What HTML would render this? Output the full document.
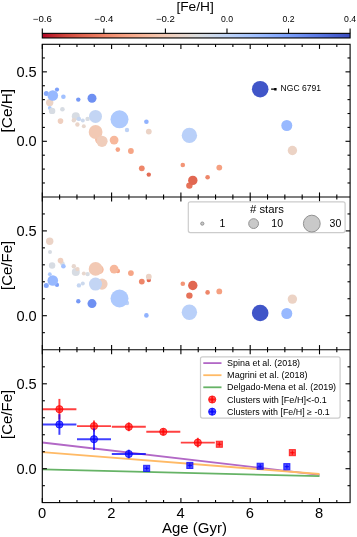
<!DOCTYPE html>
<html><head><meta charset="utf-8"><title>Ce abundance vs age</title>
<style>
html,body{margin:0;padding:0;background:#fff;}
body{width:357px;height:537px;overflow:hidden;font-family:"Liberation Sans",sans-serif;}
svg{will-change:transform;}
svg text{font-family:"Liberation Sans",sans-serif;fill:#000;}
</style></head><body>
<svg width="357" height="537" viewBox="0 0 357 537" style="display:block">
<rect x="0" y="0" width="357" height="537" fill="#ffffff"/>
<defs><linearGradient id="cb" x1="0" y1="0" x2="1" y2="0"><stop offset="0.0000" stop-color="#b40426"/><stop offset="0.0250" stop-color="#bd1f2d"/><stop offset="0.0500" stop-color="#c53334"/><stop offset="0.0750" stop-color="#cf453c"/><stop offset="0.1000" stop-color="#d65244"/><stop offset="0.1250" stop-color="#de614d"/><stop offset="0.1500" stop-color="#e36c55"/><stop offset="0.1750" stop-color="#e9785d"/><stop offset="0.2000" stop-color="#ee8468"/><stop offset="0.2250" stop-color="#f18f71"/><stop offset="0.2500" stop-color="#f49a7b"/><stop offset="0.2750" stop-color="#f6a385"/><stop offset="0.3000" stop-color="#f7ac8e"/><stop offset="0.3250" stop-color="#f7b599"/><stop offset="0.3500" stop-color="#f6bda2"/><stop offset="0.3750" stop-color="#f4c5ad"/><stop offset="0.4000" stop-color="#f2cbb7"/><stop offset="0.4250" stop-color="#eed0c0"/><stop offset="0.4500" stop-color="#e9d5cb"/><stop offset="0.4750" stop-color="#e3d9d3"/><stop offset="0.5000" stop-color="#dcdddd"/><stop offset="0.5250" stop-color="#d6dce4"/><stop offset="0.5500" stop-color="#cfdaea"/><stop offset="0.5750" stop-color="#c7d7f0"/><stop offset="0.6000" stop-color="#c0d4f5"/><stop offset="0.6250" stop-color="#b7cff9"/><stop offset="0.6500" stop-color="#afcafc"/><stop offset="0.6750" stop-color="#a7c5fe"/><stop offset="0.7000" stop-color="#9ebeff"/><stop offset="0.7250" stop-color="#96b7ff"/><stop offset="0.7500" stop-color="#8caffe"/><stop offset="0.7750" stop-color="#84a7fc"/><stop offset="0.8000" stop-color="#7b9ff9"/><stop offset="0.8250" stop-color="#7295f4"/><stop offset="0.8500" stop-color="#6a8bef"/><stop offset="0.8750" stop-color="#6180e9"/><stop offset="0.9000" stop-color="#5977e3"/><stop offset="0.9250" stop-color="#516ddb"/><stop offset="0.9500" stop-color="#4961d2"/><stop offset="0.9750" stop-color="#4257c9"/><stop offset="1.0000" stop-color="#3b4cc0"/></linearGradient></defs>
<rect x="42.30" y="33.35" width="307.80" height="4.60" fill="url(#cb)" stroke="#000" stroke-width="1.10"/>
<line x1="42.30" y1="33.35" x2="42.30" y2="28.60" stroke="#000" stroke-width="1.10"/>
<text x="32.80" y="21.9" font-size="9.0" textLength="19.0" lengthAdjust="spacingAndGlyphs">−0.6</text>
<line x1="103.86" y1="33.35" x2="103.86" y2="28.60" stroke="#000" stroke-width="1.10"/>
<text x="94.36" y="21.9" font-size="9.0" textLength="19.0" lengthAdjust="spacingAndGlyphs">−0.4</text>
<line x1="165.42" y1="33.35" x2="165.42" y2="28.60" stroke="#000" stroke-width="1.10"/>
<text x="155.92" y="21.9" font-size="9.0" textLength="19.0" lengthAdjust="spacingAndGlyphs">−0.2</text>
<line x1="226.98" y1="33.35" x2="226.98" y2="28.60" stroke="#000" stroke-width="1.10"/>
<text x="220.93" y="21.9" font-size="9.0" textLength="12.1" lengthAdjust="spacingAndGlyphs">0.0</text>
<line x1="288.54" y1="33.35" x2="288.54" y2="28.60" stroke="#000" stroke-width="1.10"/>
<text x="282.49" y="21.9" font-size="9.0" textLength="12.1" lengthAdjust="spacingAndGlyphs">0.2</text>
<line x1="350.10" y1="33.35" x2="350.10" y2="28.60" stroke="#000" stroke-width="1.10"/>
<text x="344.05" y="21.9" font-size="9.0" textLength="12.1" lengthAdjust="spacingAndGlyphs">0.4</text>
<text x="176.4" y="10.6" font-size="12.3" textLength="37.4" lengthAdjust="spacingAndGlyphs">[Fe/H]</text>
<g fill-opacity="1.00"><circle cx="99.4" cy="139.6" r="4.3" fill="#f7ba9f"/><circle cx="50.0" cy="100.2" r="2.0" fill="#d7dce3"/><circle cx="46.3" cy="93.5" r="2.5" fill="#86a9fc"/><circle cx="57.0" cy="89.6" r="2.1" fill="#7ea1fa"/><circle cx="49.7" cy="102.6" r="3.7" fill="#ebd3c6"/><circle cx="52.8" cy="95.5" r="5.3" fill="#97b8ff"/><circle cx="62.4" cy="109.3" r="2.3" fill="#d7dce3"/><circle cx="63.4" cy="96.7" r="2.3" fill="#a2c1ff"/><circle cx="49.8" cy="107.9" r="1.9" fill="#adc9fd"/><circle cx="52.1" cy="110.9" r="3.2" fill="#d7dce3"/><circle cx="78.3" cy="99.6" r="2.2" fill="#7699f6"/><circle cx="92.0" cy="98.2" r="4.5" fill="#6e90f2"/><circle cx="60.5" cy="121.1" r="2.8" fill="#efcfbf"/><circle cx="75.8" cy="116.2" r="4.0" fill="#d7dce3"/><circle cx="73.8" cy="120.3" r="2.2" fill="#e7d7ce"/><circle cx="77.4" cy="124.5" r="2.2" fill="#ead5c9"/><circle cx="78.9" cy="118.9" r="2.2" fill="#c5d6f2"/><circle cx="82.8" cy="120.5" r="2.0" fill="#ccd9ed"/><circle cx="87.6" cy="118.9" r="2.2" fill="#d8dce2"/><circle cx="83.8" cy="126.2" r="2.0" fill="#e7d7ce"/><circle cx="95.6" cy="132.0" r="6.9" fill="#f2c9b4"/><circle cx="102.0" cy="141.3" r="5.6" fill="#f0cdbb"/><circle cx="95.5" cy="116.4" r="6.5" fill="#c3d5f4"/><circle cx="117.8" cy="149.6" r="2.3" fill="#f6a385"/><circle cx="114.1" cy="140.1" r="4.4" fill="#f7b89c"/><circle cx="127.0" cy="130.0" r="2.2" fill="#bed2f6"/><circle cx="119.5" cy="119.3" r="9.0" fill="#adc9fd"/><circle cx="146.4" cy="121.8" r="2.3" fill="#90b2fe"/><circle cx="148.8" cy="174.6" r="2.2" fill="#e36c55"/><circle cx="148.8" cy="131.6" r="2.9" fill="#ebd3c6"/><circle cx="130.9" cy="151.0" r="2.9" fill="#f6a586"/><circle cx="141.8" cy="168.3" r="2.9" fill="#ee8669"/><circle cx="189.4" cy="135.4" r="7.7" fill="#b9d0f9"/><circle cx="182.8" cy="165.0" r="2.3" fill="#f39577"/><circle cx="189.4" cy="185.6" r="3.2" fill="#e67259"/><circle cx="192.8" cy="180.4" r="4.7" fill="#e16751"/><circle cx="207.6" cy="177.3" r="2.3" fill="#ee8669"/><circle cx="219.3" cy="167.6" r="2.9" fill="#f5a081"/><circle cx="260.2" cy="89.2" r="8.3" fill="#4055c8"/><circle cx="286.8" cy="125.5" r="5.5" fill="#98b9ff"/><circle cx="292.4" cy="150.5" r="4.7" fill="#ecd3c5"/></g>
<g fill-opacity="1.00"><circle cx="99.4" cy="269.6" r="4.3" fill="#f7ba9f"/><circle cx="50.0" cy="251.9" r="2.0" fill="#d7dce3"/><circle cx="46.3" cy="285.6" r="2.5" fill="#86a9fc"/><circle cx="57.0" cy="284.9" r="2.1" fill="#7ea1fa"/><circle cx="49.7" cy="241.3" r="3.7" fill="#ebd3c6"/><circle cx="52.8" cy="280.5" r="5.3" fill="#97b8ff"/><circle cx="62.4" cy="263.6" r="2.3" fill="#d7dce3"/><circle cx="63.4" cy="266.2" r="2.3" fill="#a2c1ff"/><circle cx="49.8" cy="274.2" r="1.9" fill="#adc9fd"/><circle cx="52.1" cy="265.5" r="3.2" fill="#d7dce3"/><circle cx="78.3" cy="301.3" r="2.2" fill="#7699f6"/><circle cx="92.0" cy="303.6" r="4.5" fill="#6e90f2"/><circle cx="60.5" cy="260.6" r="2.8" fill="#efcfbf"/><circle cx="75.8" cy="271.9" r="4.0" fill="#d7dce3"/><circle cx="73.8" cy="266.2" r="2.2" fill="#e7d7ce"/><circle cx="77.4" cy="269.1" r="2.2" fill="#ead5c9"/><circle cx="78.9" cy="285.4" r="2.2" fill="#c5d6f2"/><circle cx="82.8" cy="283.4" r="2.0" fill="#ccd9ed"/><circle cx="87.6" cy="274.1" r="2.2" fill="#d8dce2"/><circle cx="83.8" cy="273.5" r="2.0" fill="#e7d7ce"/><circle cx="95.6" cy="268.9" r="6.9" fill="#f2c9b4"/><circle cx="102.0" cy="284.1" r="5.6" fill="#f0cdbb"/><circle cx="95.5" cy="284.1" r="6.5" fill="#c3d5f4"/><circle cx="117.8" cy="271.0" r="2.3" fill="#f6a385"/><circle cx="114.1" cy="269.1" r="4.4" fill="#f7b89c"/><circle cx="127.0" cy="303.0" r="2.2" fill="#bed2f6"/><circle cx="119.5" cy="298.5" r="9.0" fill="#adc9fd"/><circle cx="146.4" cy="315.4" r="2.3" fill="#90b2fe"/><circle cx="148.8" cy="280.0" r="2.2" fill="#e36c55"/><circle cx="148.8" cy="276.7" r="2.9" fill="#ebd3c6"/><circle cx="130.9" cy="273.1" r="2.9" fill="#f6a586"/><circle cx="141.8" cy="281.6" r="2.9" fill="#ee8669"/><circle cx="189.4" cy="312.3" r="7.7" fill="#b9d0f9"/><circle cx="182.8" cy="283.7" r="2.3" fill="#f39577"/><circle cx="189.4" cy="295.6" r="3.2" fill="#e67259"/><circle cx="192.8" cy="285.5" r="4.7" fill="#e16751"/><circle cx="207.6" cy="292.4" r="2.3" fill="#ee8669"/><circle cx="219.3" cy="291.4" r="2.9" fill="#f5a081"/><circle cx="260.2" cy="313.0" r="8.3" fill="#4055c8"/><circle cx="286.8" cy="313.5" r="5.5" fill="#98b9ff"/><circle cx="292.4" cy="299.1" r="4.7" fill="#ecd3c5"/></g>
<path d="M271.1 88.55 H274.2 V88.0 H276.6 V90.4 H274.2 V89.85 H271.1 Z" fill="#000"/>
<text x="280.6" y="91.4" font-size="9.3" textLength="40.3" lengthAdjust="spacingAndGlyphs">NGC 6791</text>
<g fill="none" stroke-width="1.8" stroke-linecap="butt">
<line x1="42.30" y1="442.5" x2="319.50" y2="474.8" stroke="#b268c6"/>
<line x1="42.30" y1="452.2" x2="319.50" y2="474.0" stroke="#ffba66"/>
<line x1="42.30" y1="469.3" x2="319.50" y2="476.2" stroke="#66b366"/>
</g>
<g stroke="#ff0000" stroke-opacity="0.75" stroke-width="1.95" fill="#ff0000" fill-opacity="0.62"><line x1="42.4" y1="409.2" x2="76.4" y2="409.2"/><line x1="59.4" y1="398.9" x2="59.4" y2="419.5"/><circle cx="59.4" cy="409.2" r="3.6" stroke-width="1"/></g>
<g stroke="#ff0000" stroke-opacity="0.75" stroke-width="1.95" fill="#ff0000" fill-opacity="0.62"><line x1="77.0" y1="426.1" x2="111.0" y2="426.1"/><line x1="94.0" y1="420.6" x2="94.0" y2="431.6"/><circle cx="94.0" cy="426.1" r="3.6" stroke-width="1"/></g>
<g stroke="#ff0000" stroke-opacity="0.75" stroke-width="1.95" fill="#ff0000" fill-opacity="0.62"><line x1="111.8" y1="426.8" x2="145.8" y2="426.8"/><line x1="128.8" y1="422.4" x2="128.8" y2="431.2"/><circle cx="128.8" cy="426.8" r="3.6" stroke-width="1"/></g>
<g stroke="#ff0000" stroke-opacity="0.75" stroke-width="1.95" fill="#ff0000" fill-opacity="0.62"><line x1="146.3" y1="431.8" x2="180.3" y2="431.8"/><line x1="163.3" y1="428.3" x2="163.3" y2="435.3"/><circle cx="163.3" cy="431.8" r="3.6" stroke-width="1"/></g>
<g stroke="#ff0000" stroke-opacity="0.75" stroke-width="1.95" fill="#ff0000" fill-opacity="0.62"><line x1="180.8" y1="442.6" x2="214.8" y2="442.6"/><line x1="197.8" y1="437.8" x2="197.8" y2="447.4"/><circle cx="197.8" cy="442.6" r="3.6" stroke-width="1"/></g>
<g stroke="#ff0000" stroke-opacity="0.75" fill="#ff0000" fill-opacity="0.68"><line x1="217.2" y1="444.3" x2="221.6" y2="444.3" stroke-width="1.3"/><line x1="219.4" y1="442.1" x2="219.4" y2="446.5" stroke-width="1.3"/><rect x="216.3" y="441.2" width="6.1" height="6.1" stroke-width="1"/></g>
<g stroke="#ff0000" stroke-opacity="0.75" fill="#ff0000" fill-opacity="0.68"><line x1="290.2" y1="452.7" x2="294.6" y2="452.7" stroke-width="1.3"/><line x1="292.4" y1="450.5" x2="292.4" y2="454.9" stroke-width="1.3"/><rect x="289.3" y="449.6" width="6.1" height="6.1" stroke-width="1"/></g>
<g stroke="#0000ff" stroke-opacity="0.75" stroke-width="1.95" fill="#0000ff" fill-opacity="0.62"><line x1="42.4" y1="424.5" x2="76.4" y2="424.5"/><line x1="59.4" y1="414.2" x2="59.4" y2="434.8"/><circle cx="59.4" cy="424.5" r="3.6" stroke-width="1"/></g>
<g stroke="#0000ff" stroke-opacity="0.75" stroke-width="1.95" fill="#0000ff" fill-opacity="0.62"><line x1="77.0" y1="439.2" x2="111.0" y2="439.2"/><line x1="94.0" y1="428.5" x2="94.0" y2="449.9"/><circle cx="94.0" cy="439.2" r="3.6" stroke-width="1"/></g>
<g stroke="#0000ff" stroke-opacity="0.75" stroke-width="1.95" fill="#0000ff" fill-opacity="0.62"><line x1="111.8" y1="454.0" x2="145.8" y2="454.0"/><line x1="128.8" y1="449.7" x2="128.8" y2="458.3"/><circle cx="128.8" cy="454.0" r="3.6" stroke-width="1"/></g>
<g stroke="#0000ff" stroke-opacity="0.75" fill="#0000ff" fill-opacity="0.68"><line x1="144.5" y1="468.4" x2="148.9" y2="468.4" stroke-width="1.3"/><line x1="146.7" y1="466.2" x2="146.7" y2="470.6" stroke-width="1.3"/><rect x="143.6" y="465.3" width="6.1" height="6.1" stroke-width="1"/></g>
<g stroke="#0000ff" stroke-opacity="0.75" fill="#0000ff" fill-opacity="0.68"><line x1="187.6" y1="465.5" x2="192.0" y2="465.5" stroke-width="1.3"/><line x1="189.8" y1="463.3" x2="189.8" y2="467.7" stroke-width="1.3"/><rect x="186.8" y="462.4" width="6.1" height="6.1" stroke-width="1"/></g>
<g stroke="#0000ff" stroke-opacity="0.75" fill="#0000ff" fill-opacity="0.68"><line x1="258.0" y1="466.3" x2="262.4" y2="466.3" stroke-width="1.3"/><line x1="260.2" y1="464.1" x2="260.2" y2="468.5" stroke-width="1.3"/><rect x="257.1" y="463.2" width="6.1" height="6.1" stroke-width="1"/></g>
<g stroke="#0000ff" stroke-opacity="0.75" fill="#0000ff" fill-opacity="0.68"><line x1="284.7" y1="466.6" x2="289.1" y2="466.6" stroke-width="1.3"/><line x1="286.9" y1="464.4" x2="286.9" y2="468.8" stroke-width="1.3"/><rect x="283.8" y="463.6" width="6.1" height="6.1" stroke-width="1"/></g>
<g stroke="#000" stroke-width="1.10" fill="none" stroke-linecap="butt">
<rect x="42.30" y="44.30" width="307.80" height="458.30"/>
<line x1="42.30" y1="197.00" x2="350.10" y2="197.00"/>
<line x1="42.30" y1="349.70" x2="350.10" y2="349.70"/>
<line x1="42.30" y1="44.30" x2="42.30" y2="48.90"/>
<line x1="42.30" y1="192.40" x2="42.30" y2="201.60"/>
<line x1="42.30" y1="345.10" x2="42.30" y2="354.30"/>
<line x1="42.30" y1="498.00" x2="42.30" y2="502.60"/>
<line x1="59.62" y1="44.30" x2="59.62" y2="46.90"/>
<line x1="59.62" y1="194.40" x2="59.62" y2="199.60"/>
<line x1="59.62" y1="347.10" x2="59.62" y2="352.30"/>
<line x1="59.62" y1="500.00" x2="59.62" y2="502.60"/>
<line x1="76.95" y1="44.30" x2="76.95" y2="46.90"/>
<line x1="76.95" y1="194.40" x2="76.95" y2="199.60"/>
<line x1="76.95" y1="347.10" x2="76.95" y2="352.30"/>
<line x1="76.95" y1="500.00" x2="76.95" y2="502.60"/>
<line x1="94.27" y1="44.30" x2="94.27" y2="46.90"/>
<line x1="94.27" y1="194.40" x2="94.27" y2="199.60"/>
<line x1="94.27" y1="347.10" x2="94.27" y2="352.30"/>
<line x1="94.27" y1="500.00" x2="94.27" y2="502.60"/>
<line x1="111.60" y1="44.30" x2="111.60" y2="48.90"/>
<line x1="111.60" y1="192.40" x2="111.60" y2="201.60"/>
<line x1="111.60" y1="345.10" x2="111.60" y2="354.30"/>
<line x1="111.60" y1="498.00" x2="111.60" y2="502.60"/>
<line x1="128.93" y1="44.30" x2="128.93" y2="46.90"/>
<line x1="128.93" y1="194.40" x2="128.93" y2="199.60"/>
<line x1="128.93" y1="347.10" x2="128.93" y2="352.30"/>
<line x1="128.93" y1="500.00" x2="128.93" y2="502.60"/>
<line x1="146.25" y1="44.30" x2="146.25" y2="46.90"/>
<line x1="146.25" y1="194.40" x2="146.25" y2="199.60"/>
<line x1="146.25" y1="347.10" x2="146.25" y2="352.30"/>
<line x1="146.25" y1="500.00" x2="146.25" y2="502.60"/>
<line x1="163.57" y1="44.30" x2="163.57" y2="46.90"/>
<line x1="163.57" y1="194.40" x2="163.57" y2="199.60"/>
<line x1="163.57" y1="347.10" x2="163.57" y2="352.30"/>
<line x1="163.57" y1="500.00" x2="163.57" y2="502.60"/>
<line x1="180.90" y1="44.30" x2="180.90" y2="48.90"/>
<line x1="180.90" y1="192.40" x2="180.90" y2="201.60"/>
<line x1="180.90" y1="345.10" x2="180.90" y2="354.30"/>
<line x1="180.90" y1="498.00" x2="180.90" y2="502.60"/>
<line x1="198.22" y1="44.30" x2="198.22" y2="46.90"/>
<line x1="198.22" y1="194.40" x2="198.22" y2="199.60"/>
<line x1="198.22" y1="347.10" x2="198.22" y2="352.30"/>
<line x1="198.22" y1="500.00" x2="198.22" y2="502.60"/>
<line x1="215.55" y1="44.30" x2="215.55" y2="46.90"/>
<line x1="215.55" y1="194.40" x2="215.55" y2="199.60"/>
<line x1="215.55" y1="347.10" x2="215.55" y2="352.30"/>
<line x1="215.55" y1="500.00" x2="215.55" y2="502.60"/>
<line x1="232.88" y1="44.30" x2="232.88" y2="46.90"/>
<line x1="232.88" y1="194.40" x2="232.88" y2="199.60"/>
<line x1="232.88" y1="347.10" x2="232.88" y2="352.30"/>
<line x1="232.88" y1="500.00" x2="232.88" y2="502.60"/>
<line x1="250.20" y1="44.30" x2="250.20" y2="48.90"/>
<line x1="250.20" y1="192.40" x2="250.20" y2="201.60"/>
<line x1="250.20" y1="345.10" x2="250.20" y2="354.30"/>
<line x1="250.20" y1="498.00" x2="250.20" y2="502.60"/>
<line x1="267.52" y1="44.30" x2="267.52" y2="46.90"/>
<line x1="267.52" y1="194.40" x2="267.52" y2="199.60"/>
<line x1="267.52" y1="347.10" x2="267.52" y2="352.30"/>
<line x1="267.52" y1="500.00" x2="267.52" y2="502.60"/>
<line x1="284.85" y1="44.30" x2="284.85" y2="46.90"/>
<line x1="284.85" y1="194.40" x2="284.85" y2="199.60"/>
<line x1="284.85" y1="347.10" x2="284.85" y2="352.30"/>
<line x1="284.85" y1="500.00" x2="284.85" y2="502.60"/>
<line x1="302.18" y1="44.30" x2="302.18" y2="46.90"/>
<line x1="302.18" y1="194.40" x2="302.18" y2="199.60"/>
<line x1="302.18" y1="347.10" x2="302.18" y2="352.30"/>
<line x1="302.18" y1="500.00" x2="302.18" y2="502.60"/>
<line x1="319.50" y1="44.30" x2="319.50" y2="48.90"/>
<line x1="319.50" y1="192.40" x2="319.50" y2="201.60"/>
<line x1="319.50" y1="345.10" x2="319.50" y2="354.30"/>
<line x1="319.50" y1="498.00" x2="319.50" y2="502.60"/>
<line x1="336.82" y1="44.30" x2="336.82" y2="46.90"/>
<line x1="336.82" y1="194.40" x2="336.82" y2="199.60"/>
<line x1="336.82" y1="347.10" x2="336.82" y2="352.30"/>
<line x1="336.82" y1="500.00" x2="336.82" y2="502.60"/>
<line x1="42.30" y1="182.97" x2="44.90" y2="182.97"/>
<line x1="350.10" y1="182.97" x2="347.50" y2="182.97"/>
<line x1="42.30" y1="169.08" x2="44.90" y2="169.08"/>
<line x1="350.10" y1="169.08" x2="347.50" y2="169.08"/>
<line x1="42.30" y1="155.19" x2="44.90" y2="155.19"/>
<line x1="350.10" y1="155.19" x2="347.50" y2="155.19"/>
<line x1="42.30" y1="141.30" x2="46.90" y2="141.30"/>
<line x1="350.10" y1="141.30" x2="345.50" y2="141.30"/>
<line x1="42.30" y1="127.41" x2="44.90" y2="127.41"/>
<line x1="350.10" y1="127.41" x2="347.50" y2="127.41"/>
<line x1="42.30" y1="113.52" x2="44.90" y2="113.52"/>
<line x1="350.10" y1="113.52" x2="347.50" y2="113.52"/>
<line x1="42.30" y1="99.63" x2="44.90" y2="99.63"/>
<line x1="350.10" y1="99.63" x2="347.50" y2="99.63"/>
<line x1="42.30" y1="85.74" x2="44.90" y2="85.74"/>
<line x1="350.10" y1="85.74" x2="347.50" y2="85.74"/>
<line x1="42.30" y1="71.85" x2="46.90" y2="71.85"/>
<line x1="350.10" y1="71.85" x2="345.50" y2="71.85"/>
<line x1="42.30" y1="57.96" x2="44.90" y2="57.96"/>
<line x1="350.10" y1="57.96" x2="347.50" y2="57.96"/>
<line x1="42.30" y1="332.66" x2="44.90" y2="332.66"/>
<line x1="350.10" y1="332.66" x2="347.50" y2="332.66"/>
<line x1="42.30" y1="315.70" x2="46.90" y2="315.70"/>
<line x1="350.10" y1="315.70" x2="345.50" y2="315.70"/>
<line x1="42.30" y1="298.74" x2="44.90" y2="298.74"/>
<line x1="350.10" y1="298.74" x2="347.50" y2="298.74"/>
<line x1="42.30" y1="281.78" x2="44.90" y2="281.78"/>
<line x1="350.10" y1="281.78" x2="347.50" y2="281.78"/>
<line x1="42.30" y1="264.82" x2="44.90" y2="264.82"/>
<line x1="350.10" y1="264.82" x2="347.50" y2="264.82"/>
<line x1="42.30" y1="247.86" x2="44.90" y2="247.86"/>
<line x1="350.10" y1="247.86" x2="347.50" y2="247.86"/>
<line x1="42.30" y1="230.90" x2="46.90" y2="230.90"/>
<line x1="350.10" y1="230.90" x2="345.50" y2="230.90"/>
<line x1="42.30" y1="213.94" x2="44.90" y2="213.94"/>
<line x1="350.10" y1="213.94" x2="347.50" y2="213.94"/>
<line x1="42.30" y1="485.68" x2="44.90" y2="485.68"/>
<line x1="350.10" y1="485.68" x2="347.50" y2="485.68"/>
<line x1="42.30" y1="468.70" x2="46.90" y2="468.70"/>
<line x1="350.10" y1="468.70" x2="345.50" y2="468.70"/>
<line x1="42.30" y1="451.72" x2="44.90" y2="451.72"/>
<line x1="350.10" y1="451.72" x2="347.50" y2="451.72"/>
<line x1="42.30" y1="434.74" x2="44.90" y2="434.74"/>
<line x1="350.10" y1="434.74" x2="347.50" y2="434.74"/>
<line x1="42.30" y1="417.76" x2="44.90" y2="417.76"/>
<line x1="350.10" y1="417.76" x2="347.50" y2="417.76"/>
<line x1="42.30" y1="400.78" x2="44.90" y2="400.78"/>
<line x1="350.10" y1="400.78" x2="347.50" y2="400.78"/>
<line x1="42.30" y1="383.80" x2="46.90" y2="383.80"/>
<line x1="350.10" y1="383.80" x2="345.50" y2="383.80"/>
<line x1="42.30" y1="366.82" x2="44.90" y2="366.82"/>
<line x1="350.10" y1="366.82" x2="347.50" y2="366.82"/>
</g>
<g font-size="14.1">
<text x="16.4" y="76.9" textLength="20.3" lengthAdjust="spacingAndGlyphs">0.5</text>
<text x="16.4" y="146.3" textLength="20.3" lengthAdjust="spacingAndGlyphs">0.0</text>
<text x="16.4" y="235.9" textLength="20.3" lengthAdjust="spacingAndGlyphs">0.5</text>
<text x="16.4" y="320.7" textLength="20.3" lengthAdjust="spacingAndGlyphs">0.0</text>
<text x="16.4" y="388.8" textLength="20.3" lengthAdjust="spacingAndGlyphs">0.5</text>
<text x="16.4" y="473.7" textLength="20.3" lengthAdjust="spacingAndGlyphs">0.0</text>
<text x="37.9" y="518.0" textLength="8.2" lengthAdjust="spacingAndGlyphs">0</text>
<text x="107.2" y="518.0" textLength="8.2" lengthAdjust="spacingAndGlyphs">2</text>
<text x="176.5" y="518.0" textLength="8.2" lengthAdjust="spacingAndGlyphs">4</text>
<text x="245.8" y="518.0" textLength="8.2" lengthAdjust="spacingAndGlyphs">6</text>
<text x="315.1" y="518.0" textLength="8.2" lengthAdjust="spacingAndGlyphs">8</text>
</g>
<text x="161.9" y="532.6" font-size="13.8" textLength="65.0" lengthAdjust="spacingAndGlyphs">Age (Gyr)</text>
<text transform="translate(11.8 132.5) rotate(-90)" x="0" y="0" font-size="13.8" textLength="43.6" lengthAdjust="spacingAndGlyphs">[Ce/H]</text>
<text transform="translate(11.8 289.9) rotate(-90)" x="0" y="0" font-size="13.8" textLength="49.0" lengthAdjust="spacingAndGlyphs">[Ce/Fe]</text>
<text transform="translate(11.8 438.9) rotate(-90)" x="0" y="0" font-size="13.8" textLength="49.0" lengthAdjust="spacingAndGlyphs">[Ce/Fe]</text>
<rect x="188.3" y="201.8" width="156.8" height="30.8" rx="2" ry="2" fill="#fff" fill-opacity="0.8" stroke="#cccccc" stroke-width="1.2"/>
<g fill="#c9c9c9" stroke="#929292" stroke-width="1">
<circle cx="202.3" cy="223.6" r="1.6"/><circle cx="253.6" cy="223.6" r="4.9"/><circle cx="311.8" cy="223.6" r="8.4"/>
</g>
<g font-size="10.2">
<text x="250.0" y="213.0" textLength="33.9" lengthAdjust="spacingAndGlyphs"># stars</text>
<text x="219.4" y="226.9" textLength="5.8" lengthAdjust="spacingAndGlyphs">1</text>
<text x="271.3" y="226.9" textLength="11.7" lengthAdjust="spacingAndGlyphs">10</text>
<text x="329.6" y="226.9" textLength="11.7" lengthAdjust="spacingAndGlyphs">30</text>
</g>
<rect x="200.5" y="356.8" width="139.6" height="61.3" rx="2" ry="2" fill="#fff" fill-opacity="0.8" stroke="#cccccc" stroke-width="1.2"/>
<g stroke-width="1.8">
<line x1="203.3" y1="363.1" x2="221.5" y2="363.1" stroke="#b268c6"/>
<line x1="203.3" y1="375.2" x2="221.5" y2="375.2" stroke="#ffba66"/>
<line x1="203.3" y1="387.3" x2="221.5" y2="387.3" stroke="#66b366"/>
</g>
<g stroke="#ff0000" stroke-opacity="0.75" stroke-width="1.95" fill="#ff0000" fill-opacity="0.62"><line x1="208.8" y1="399.5" x2="215.6" y2="399.5"/><line x1="212.2" y1="396.1" x2="212.2" y2="402.9"/><circle cx="212.2" cy="399.5" r="3.6" stroke-width="1"/></g>
<g stroke="#0000ff" stroke-opacity="0.75" stroke-width="1.95" fill="#0000ff" fill-opacity="0.62"><line x1="208.8" y1="411.7" x2="215.6" y2="411.7"/><line x1="212.2" y1="408.3" x2="212.2" y2="415.1"/><circle cx="212.2" cy="411.7" r="3.6" stroke-width="1"/></g>
<g font-size="8.9">
<text x="227.1" y="366.2" textLength="73.0" lengthAdjust="spacingAndGlyphs">Spina et al. (2018)</text>
<text x="227.1" y="378.3" textLength="80.5" lengthAdjust="spacingAndGlyphs">Magrini et al. (2018)</text>
<text x="227.1" y="390.4" textLength="109.0" lengthAdjust="spacingAndGlyphs">Delgado-Mena et al. (2019)</text>
<text x="227.1" y="402.6" textLength="99.7" lengthAdjust="spacingAndGlyphs">Clusters with [Fe/H]&lt;-0.1</text>
<text x="227.1" y="414.8" textLength="102.7" lengthAdjust="spacingAndGlyphs">Clusters with [Fe/H] ≥ -0.1</text>
</g>
</svg>
</body></html>
